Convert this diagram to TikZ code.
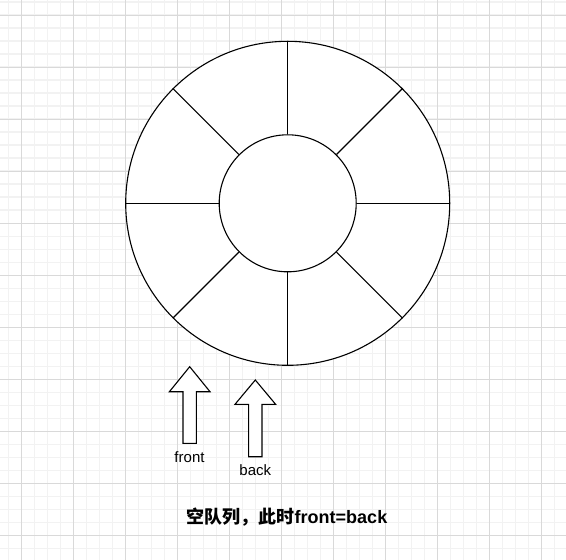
\documentclass[tikz,border=0pt]{standalone}
\usepackage{fontspec}
\setmainfont{Liberation Sans}
\newfontfamily\cjk{Noto Sans CJK SC}
\begin{document}
\begin{tikzpicture}[x=1bp,y=-1bp,
  minorgrid/.style={draw=black!5,line width=1.6bp},
  majorgrid/.style={draw=black!15,line width=0.9bp},
  ring/.style={circle,draw=black,line width=1.1bp,inner sep=0pt,fill=white},
  spoke/.style={draw=black,line width=1.1bp},
  blockarrow/.style={draw=black,line width=1.1bp,fill=white,line join=miter},
  lbl/.style={inner sep=0pt,font=\fontsize{15bp}{18bp}\selectfont},
  caption/.style={inner sep=0pt,font=\fontsize{18bp}{22bp}\selectfont\bfseries}]
\useasboundingbox (0,0) rectangle (566,560);
\fill[white] (0,0) rectangle (566,560);
% grid
\foreach \k in {0,...,44} {
  \draw[minorgrid] ({8.5+13*\k},0) -- ({8.5+13*\k},560);
  \draw[minorgrid] (0,{2.3+13*\k}) -- (566,{2.3+13*\k});
}
\foreach \k in {0,...,11} {
  \draw[majorgrid] ({21.5+52*\k},0) -- ({21.5+52*\k},560);
  \draw[majorgrid] (0,{15.3+52*\k}) -- (566,{15.3+52*\k});
}
% rings
\node[ring,minimum size=324bp] (outer) at (287.7,203.3) {};
\node[ring,minimum size=137bp] (inner) at (287.7,203.3) {};
\foreach \a in {0,45,...,315} {
  \draw[spoke] (inner.\a) -- (outer.\a);
}
% block arrows
\draw[blockarrow] (189.7,366.7) -- (210,391.7) -- (196.4,391.7) -- (196.4,443.3)
  -- (183,443.3) -- (183,391.7) -- (169.4,391.7) -- cycle;
\draw[blockarrow] (255.3,380) -- (275.6,404.3) -- (262,404.3) -- (262,456.7)
  -- (248.6,456.7) -- (248.6,404.3) -- (235,404.3) -- cycle;
\node[lbl] (front) at (189.5,457.5) {front};
\node[lbl] (back) at (255.3,470) {back};
\node[caption] (cap) at (287,517) {{\cjk\bfseries 空队列，此时}front=back};
\end{tikzpicture}
\end{document}
